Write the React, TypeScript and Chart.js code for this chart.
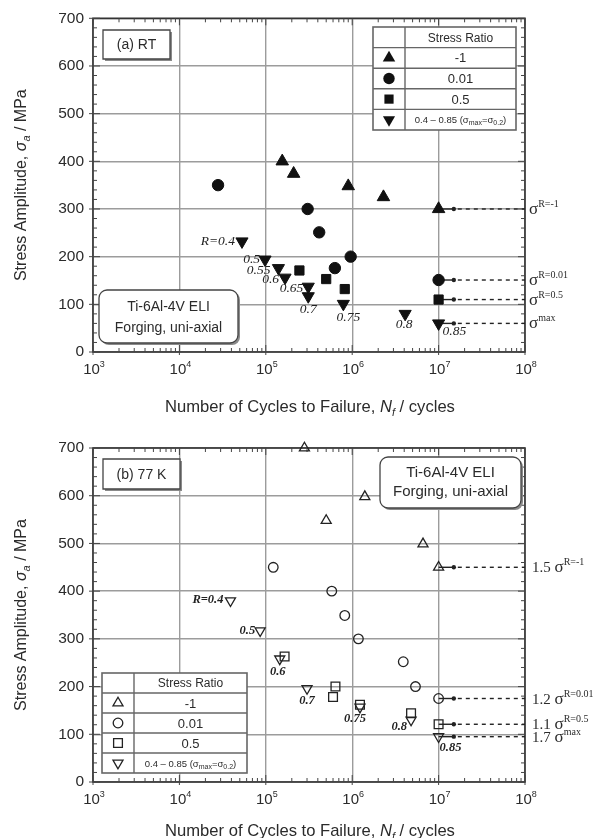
import React, { useEffect, useRef } from "react";
import { Chart, registerables } from "chart.js";

Chart.register(...registerables);

// ---- axes ----
const DECADES = [3, 4, 5, 6, 7, 8];
const STRESS_TICKS = [0, 100, 200, 300, 400, 500, 600, 700];

// ---- (a) RT : filled symbols ----
const rtTriN = [1.55e5, 2.1e5, 9.0e5, 2.3e6, 1e7];
const rtTriS = [400, 374, 348, 325, 300];
const rtCircN = [2.8e4, 3.05e5, 4.15e5, 6.3e5, 9.6e5, 1e7];
const rtCircS = [350, 300, 251, 176, 200, 151];
const rtSqN = [2.45e5, 5.0e5, 8.2e5, 1e7];
const rtSqS = [171, 153, 132, 110];
const rtInvN = [5.3e4, 9.8e4, 1.4e5, 1.67e5, 3.1e5, 3.1e5, 7.9e5, 4.1e6, 1e7];
const rtInvS = [232, 194, 176, 156, 137, 117, 101, 80, 60];
const rtInvR = ["R=0.4", "0.5", "0.55", "0.6", "0.65", "0.7", "0.75", "0.8", "0.85"];

// ---- (b) 77 K : open symbols ----
const ltTriN = [2.8e5, 5.0e5, 1.4e6, 6.6e6, 1e7];
const ltTriS = [700, 548, 598, 499, 450];
const ltCircN = [1.22e5, 5.8e5, 8.2e5, 1.18e6, 3.9e6, 5.4e6, 1e7];
const ltCircS = [450, 400, 349, 300, 252, 200, 175];
const ltSqN = [1.65e5, 6.4e5, 6.0e5, 1.23e6, 4.8e6, 1e7];
const ltSqS = [263, 200, 178, 162, 144, 121];
const ltInvN = [3.9e4, 8.6e4, 1.45e5, 3.0e5, 1.23e6, 4.8e6, 1e7];
const ltInvS = [380, 317, 258, 196, 157, 130, 95];
const ltInvR = ["R=0.4", "0.5", "0.6", "0.7", "0.75", "0.8", "0.85"];

// ---- run-out limit annotations (prefix factor, superscript) ----
const rtLimitPrefix = ["", "", "", ""];
const ltLimitPrefix = ["1.5", "1.2", "1.1", "1.7"];
const limitSup = ["R=-1", "R=0.01", "R=0.5", "max"];

// ---- legend text ----
const legendHeader = "Stress Ratio";
const legendRows = ["-1", "0.01", "0.5"];

const SANS = "'Liberation Sans', Arial, Helvetica, sans-serif";
const SERIF = "'Liberation Serif', 'Times New Roman', serif";
const INK = "#2b2b2b";
const GRID = "#9c9c9c";

type Kind = "tri" | "circle" | "rect" | "inv";
type Series = { kind: Kind; N: number[]; S: number[]; r: number };
type Seg = { t: string; font: string; dy?: number };
type LabelPos = [number, number, CanvasTextAlign];

type PanelCfg = {
  padTop: number;
  axisH: number;
  tickLabelY: number;
  titleY: number;
  filled: boolean;
  tag: string;
  tagBox: [number, number, number, number];
  matBox: [number, number, number, number];
  matLines: [number, number];
  matFont: string;
  legend: { x: number; y: number; split: number; w: number; rowH: number };
  series: Series[];
  labelN: number[];
  labelS: number[];
  labelText: string[];
  labelPos: LabelPos[];
  labelFont: string;
  limitPrefix: string[];
  limitDx: number;
};

const rtLabelPos: LabelPos[] = [
  [-7, 0, "right"],
  [-5, 0, "right"],
  [-8, 2, "right"],
  [-6, 2, "right"],
  [-5, 2, "right"],
  [0, 13, "center"],
  [5, 14, "center"],
  [-1, 11, "center"],
  [4, 8, "left"],
];

const ltLabelPos: LabelPos[] = [
  [-7, -1, "right"],
  [-5, 0, "right"],
  [-2, 13, "center"],
  [0, 12, "center"],
  [-5, 12, "center"],
  [-4, 7, "right"],
  [1, 11, "left"],
];

const panelRT: PanelCfg = {
  padTop: 17,
  axisH: 67,
  tickLabelY: 368,
  titleY: 406,
  filled: true,
  tag: "(a) RT",
  tagBox: [103, 30, 67, 29],
  matBox: [99, 290, 139, 53],
  matLines: [307, 328],
  matFont: `14px ${SANS}`,
  legend: { x: 373, y: 27, split: 405, w: 143, rowH: 20.6 },
  series: [
    { kind: "tri", N: rtTriN, S: rtTriS, r: 7.2 },
    { kind: "circle", N: rtCircN, S: rtCircS, r: 5.7 },
    { kind: "rect", N: rtSqN, S: rtSqS, r: 6.5 },
    { kind: "inv", N: rtInvN, S: rtInvS, r: 7 },
  ],
  labelN: rtInvN,
  labelS: rtInvS,
  labelText: rtInvR,
  labelPos: rtLabelPos,
  labelFont: `italic 13.5px ${SERIF}`,
  limitPrefix: rtLimitPrefix,
  limitDx: 4,
};

const panel77K: PanelCfg = {
  padTop: 29,
  axisH: 56,
  tickLabelY: 379,
  titleY: 411,
  filled: false,
  tag: "(b) 77 K",
  tagBox: [103, 40, 77, 30],
  matBox: [380, 38, 141, 51],
  matLines: [54, 73],
  matFont: `15px ${SANS}`,
  legend: { x: 102, y: 254, split: 134, w: 145, rowH: 20 },
  series: [
    { kind: "tri", N: ltTriN, S: ltTriS, r: 5.8 },
    { kind: "circle", N: ltCircN, S: ltCircS, r: 4.8 },
    { kind: "rect", N: ltSqN, S: ltSqS, r: 6.2 },
    { kind: "inv", N: ltInvN, S: ltInvS, r: 5.8 },
  ],
  labelN: ltInvN,
  labelS: ltInvS,
  labelText: ltInvR,
  labelPos: ltLabelPos,
  labelFont: `italic bold 12.5px ${SERIF}`,
  limitPrefix: ltLimitPrefix,
  limitDx: 7,
};

function richWidth(ctx: CanvasRenderingContext2D, segs: Seg[]) {
  let w = 0;
  for (const s of segs) {
    ctx.font = s.font;
    w += ctx.measureText(s.t).width;
  }
  return w;
}

function drawRich(
  ctx: CanvasRenderingContext2D,
  segs: Seg[],
  x: number,
  y: number,
  align: CanvasTextAlign
) {
  const w = richWidth(ctx, segs);
  let cx = align === "left" ? x : align === "center" ? x - w / 2 : x - w;
  ctx.textAlign = "left";
  ctx.textBaseline = "alphabetic";
  for (const s of segs) {
    ctx.font = s.font;
    ctx.fillText(s.t, cx, y + (s.dy || 0));
    cx += ctx.measureText(s.t).width;
  }
}

function drawMarker(
  ctx: CanvasRenderingContext2D,
  kind: Kind,
  x: number,
  y: number,
  r: number,
  filled: boolean
) {
  ctx.beginPath();
  if (kind === "circle") {
    ctx.arc(x, y, r, 0, Math.PI * 2);
  } else if (kind === "rect") {
    const s = r * Math.SQRT1_2;
    ctx.rect(x - s, y - s, 2 * s, 2 * s);
  } else {
    const rot = kind === "inv" ? Math.PI : 0;
    for (let i = 0; i < 3; i++) {
      const a = rot + (i * 2 * Math.PI) / 3;
      const px = x + Math.sin(a) * r;
      const py = y - Math.cos(a) * r;
      if (i === 0) ctx.moveTo(px, py);
      else ctx.lineTo(px, py);
    }
    ctx.closePath();
  }
  if (filled) {
    ctx.fillStyle = "#111";
    ctx.fill();
  } else {
    ctx.strokeStyle = "#222";
    ctx.lineWidth = 1.3;
    ctx.stroke();
  }
}

function roundRectPath(
  ctx: CanvasRenderingContext2D,
  x: number,
  y: number,
  w: number,
  h: number,
  r: number
) {
  ctx.beginPath();
  ctx.moveTo(x + r, y);
  ctx.arcTo(x + w, y, x + w, y + h, r);
  ctx.arcTo(x + w, y + h, x, y + h, r);
  ctx.arcTo(x, y + h, x, y, r);
  ctx.arcTo(x, y, x + w, y, r);
  ctx.closePath();
}

function shadowBox(
  ctx: CanvasRenderingContext2D,
  b: [number, number, number, number],
  radius: number
) {
  const [x, y, w, h] = b;
  ctx.fillStyle = "#8a8a8a";
  roundRectPath(ctx, x + 2, y + 2, w, h, radius);
  ctx.fill();
  ctx.fillStyle = "#fff";
  roundRectPath(ctx, x, y, w, h, radius);
  ctx.fill();
  ctx.strokeStyle = "#444";
  ctx.lineWidth = 1.3;
  ctx.stroke();
}

function line(ctx: CanvasRenderingContext2D, x1: number, y1: number, x2: number, y2: number) {
  ctx.beginPath();
  ctx.moveTo(x1, y1);
  ctx.lineTo(x2, y2);
  ctx.stroke();
}

function makeDecor(cfg: PanelCfg) {
  return {
    id: "panelDecor",
    beforeDatasetsDraw(chart: any) {
      const ctx: CanvasRenderingContext2D = chart.ctx;
      const xs = chart.scales.x;
      const ys = chart.scales.y;
      const { left, right, top, bottom } = chart.chartArea;
      ctx.save();

      // frame
      ctx.strokeStyle = "#333";
      ctx.lineWidth = 1.6;
      ctx.strokeRect(left, top, right - left, bottom - top);

      // tick marks on all four sides
      ctx.lineWidth = 1;
      ctx.strokeStyle = "#444";
      for (let d = 3; d < 8; d++) {
        for (let m = 2; m <= 9; m++) {
          const x = xs.getPixelForValue(m * 10 ** d);
          line(ctx, x, bottom, x, bottom - 4);
          line(ctx, x, top, x, top + 4);
        }
      }
      for (const d of DECADES) {
        const x = xs.getPixelForValue(10 ** d);
        line(ctx, x, bottom + 3, x, bottom - 7);
        line(ctx, x, top, x, top + 7);
      }
      for (let v = 0; v <= 700; v += 20) {
        const y = ys.getPixelForValue(v);
        const major = v % 100 === 0;
        line(ctx, left - (major ? 4 : 0), y, left + (major ? 7 : 4), y);
        line(ctx, right, y, right - (major ? 7 : 4), y);
      }

      // run-out arrows to the fatigue limits
      const x0 = xs.getPixelForValue(1e7);
      const x1 = xs.getPixelForValue(1.5e7);
      cfg.series.forEach((s, i) => {
        const y = ys.getPixelForValue(s.S[s.S.length - 1]);
        ctx.strokeStyle = "#222";
        ctx.lineWidth = 1.4;
        ctx.setLineDash([]);
        line(ctx, x0, y, x1, y);
        ctx.setLineDash([4, 4]);
        line(ctx, x1 + 4, y, right, y);
        ctx.setLineDash([]);
        ctx.fillStyle = "#222";
        ctx.beginPath();
        ctx.arc(x1, y, 2.2, 0, Math.PI * 2);
        ctx.fill();

        const segs: Seg[] = [];
        if (cfg.limitPrefix[i]) segs.push({ t: cfg.limitPrefix[i] + " ", font: `15px ${SERIF}` });
        segs.push({ t: "σ", font: `17px ${SERIF}` });
        segs.push({ t: limitSup[i], font: `10px ${SERIF}`, dy: -7 });
        ctx.fillStyle = INK;
        drawRich(ctx, segs, right + cfg.limitDx, y + 5, "left");
      });
      ctx.restore();
    },
    afterDraw(chart: any) {
      const ctx: CanvasRenderingContext2D = chart.ctx;
      const xs = chart.scales.x;
      const ys = chart.scales.y;
      const { left, right, top, bottom } = chart.chartArea;
      ctx.save();
      ctx.fillStyle = INK;

      // x tick labels 10^n
      for (const d of DECADES) {
        const x = xs.getPixelForValue(10 ** d);
        drawRich(
          ctx,
          [
            { t: "10", font: `15px ${SANS}` },
            { t: String(d), font: `9px ${SANS}`, dy: -7 },
          ],
          x + 1,
          cfg.tickLabelY + 6,
          "center"
        );
      }

      // axis titles
      drawRich(
        ctx,
        [
          { t: "Number of Cycles to Failure, ", font: `16.6px ${SANS}` },
          { t: "N", font: `italic 16.6px ${SANS}` },
          { t: "f", font: `italic 11px ${SANS}`, dy: 4 },
          { t: " / cycles", font: `16.6px ${SANS}` },
        ],
        (left + right) / 2 + 1,
        cfg.titleY + 6,
        "center"
      );
      ctx.save();
      ctx.translate(26, (top + bottom) / 2);
      ctx.rotate(-Math.PI / 2);
      drawRich(
        ctx,
        [
          { t: "Stress Amplitude, ", font: `16px ${SANS}` },
          { t: "σ", font: `italic 16px ${SANS}` },
          { t: "a", font: `italic 11px ${SANS}`, dy: 4 },
          { t: " / MPa", font: `16px ${SANS}` },
        ],
        0,
        0,
        "center"
      );
      ctx.restore();

      // point labels: stress ratio of each R=0.4-0.85 test
      ctx.fillStyle = "#222";
      cfg.labelText.forEach((t, i) => {
        const x = xs.getPixelForValue(cfg.labelN[i]);
        const y = ys.getPixelForValue(cfg.labelS[i]);
        const [dx, dy, al] = cfg.labelPos[i];
        ctx.font = cfg.labelFont;
        ctx.textAlign = al;
        ctx.textBaseline = "middle";
        ctx.fillText(t, x + dx, y + dy);
      });

      // panel tag
      shadowBox(ctx, cfg.tagBox, 0);
      ctx.fillStyle = INK;
      ctx.font = `14px ${SANS}`;
      ctx.textAlign = "center";
      ctx.textBaseline = "middle";
      ctx.fillText(cfg.tag, cfg.tagBox[0] + cfg.tagBox[2] / 2, cfg.tagBox[1] + cfg.tagBox[3] / 2 + 1);

      // material box
      shadowBox(ctx, cfg.matBox, 8);
      ctx.fillStyle = INK;
      ctx.font = cfg.matFont;
      const mcx = cfg.matBox[0] + cfg.matBox[2] / 2;
      ctx.fillText("Ti-6Al-4V ELI", mcx, cfg.matLines[0]);
      ctx.fillText("Forging, uni-axial", mcx, cfg.matLines[1]);

      // legend table
      const L = cfg.legend;
      const h = L.rowH * 5;
      ctx.fillStyle = "#fff";
      ctx.fillRect(L.x, L.y, L.w, h);
      ctx.strokeStyle = "#666";
      ctx.lineWidth = 1.6;
      ctx.strokeRect(L.x, L.y, L.w, h);
      ctx.lineWidth = 1.4;
      for (let i = 1; i < 5; i++) line(ctx, L.x, L.y + i * L.rowH, L.x + L.w, L.y + i * L.rowH);
      line(ctx, L.split, L.y, L.split, L.y + h);
      const tcx = (L.split + L.x + L.w) / 2;
      const scx = (L.x + L.split) / 2;
      ctx.fillStyle = INK;
      ctx.font = `12px ${SANS}`;
      ctx.textAlign = "center";
      ctx.textBaseline = "middle";
      ctx.fillText(legendHeader, tcx, L.y + L.rowH / 2 + 1);
      cfg.series.forEach((s, i) => {
        const cy = L.y + (i + 1.5) * L.rowH;
        drawMarker(ctx, s.kind, scx, cy, s.r, cfg.filled);
        ctx.fillStyle = INK;
        if (i < 3) {
          ctx.font = `13px ${SANS}`;
          ctx.textAlign = "center";
          ctx.textBaseline = "middle";
          ctx.fillText(legendRows[i], tcx, cy + 1);
        } else {
          drawRich(
            ctx,
            [
              { t: "0.4 – 0.85 (σ", font: `9.5px ${SANS}` },
              { t: "max", font: `7px ${SANS}`, dy: 2 },
              { t: "=σ", font: `9.5px ${SANS}` },
              { t: "0.2", font: `7px ${SANS}`, dy: 2 },
              { t: ")", font: `9.5px ${SANS}` },
            ],
            tcx,
            cy + 3.5,
            "center"
          );
        }
      });
      ctx.restore();
    },
  };
}

function PanelChart({ cfg }: { cfg: PanelCfg }) {
  const ref = useRef<HTMLCanvasElement>(null);
  useEffect(() => {
    const canvas = ref.current;
    if (!canvas) return;
    const chart = new Chart(canvas, {
      type: "scatter",
      data: {
        datasets: cfg.series.map((s) => ({
          data: s.N.map((n, i) => ({ x: n, y: s.S[i] })),
          pointStyle: s.kind === "circle" ? "circle" : s.kind === "rect" ? "rect" : "triangle",
          pointRotation: s.kind === "inv" ? 180 : 0,
          pointRadius: s.r,
          pointHoverRadius: s.r,
          pointBackgroundColor: cfg.filled ? "#111" : "rgba(0,0,0,0)",
          pointBorderColor: cfg.filled ? "#111" : "#222",
          pointBorderWidth: cfg.filled ? 1 : 1.3,
          clip: false,
        })),
      },
      options: {
        responsive: false,
        animation: false,
        devicePixelRatio: 1,
        events: [],
        layout: { padding: { top: cfg.padTop, right: 86, left: 0, bottom: 0 } },
        plugins: { legend: { display: false }, tooltip: { enabled: false } },
        scales: {
          x: {
            type: "logarithmic",
            min: 1e3,
            max: 1e8,
            afterBuildTicks: (s: any) => {
              s.ticks = DECADES.map((d) => ({ value: 10 ** d }));
            },
            ticks: { display: false },
            grid: { color: GRID, lineWidth: 1.4, drawTicks: false },
            border: { display: false },
            afterFit: (s: any) => {
              s.height = cfg.axisH;
            },
          },
          y: {
            type: "linear",
            min: 0,
            max: 700,
            afterBuildTicks: (s: any) => {
              s.ticks = STRESS_TICKS.map((v) => ({ value: v }));
            },
            ticks: {
              font: { family: SANS, size: 15.5 },
              color: INK,
              padding: 9,
              callback: (v: any) => String(v),
            },
            grid: { color: GRID, lineWidth: 1.4, drawTicks: false },
            border: { display: false },
            afterFit: (s: any) => {
              s.width = 93;
            },
          },
        },
      } as any,
      plugins: [makeDecor(cfg)],
    });
    return () => chart.destroy();
  }, [cfg]);
  return (
    <canvas
      ref={ref}
      width={611}
      height={419}
      style={{ display: "block", width: 611, height: 419 }}
    />
  );
}

export default function App() {
  return (
    <div style={{ position: "absolute", left: 0, top: 0, width: 611, height: 838, background: "#fff" }}>
      <PanelChart cfg={panelRT} />
      <PanelChart cfg={panel77K} />
    </div>
  );
}
